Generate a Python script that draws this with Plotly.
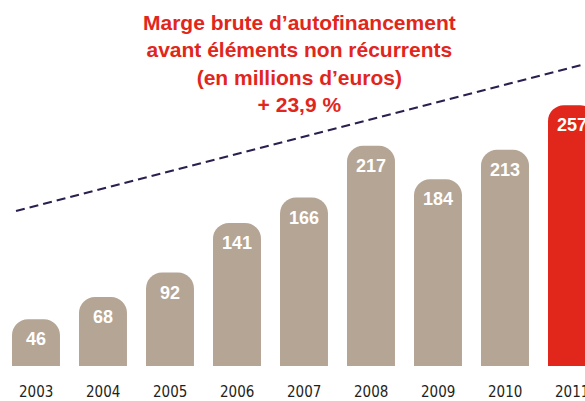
import plotly.graph_objects as go

years = ["2003", "2004", "2005", "2006", "2007", "2008", "2009", "2010", "2011"]
values = [46, 68, 92, 141, 166, 217, 184, 213, 257]
bar_colors = ["#b5a595"] * 8 + ["#e1261c"]
trend_x = [-0.298, 8.194]
trend_y = [152.7, 297.5]
title_lines = ["Marge brute d\u2019autofinancement",
               "avant \u00e9l\u00e9ments non r\u00e9currents",
               "(en millions d\u2019euros)",
               "+ 23,9 %"]

xpos = list(range(len(years)))

fig = go.Figure()
fig.add_trace(go.Bar(
    x=xpos, y=values, width=0.716,
    marker=dict(color=bar_colors, line=dict(width=0)),
    hoverinfo="skip",
))
fig.add_trace(go.Scatter(
    x=trend_x, y=trend_y, mode="lines",
    line=dict(color="#2b1f4f", width=2.2, dash="9px,5px"),
    hoverinfo="skip", cliponaxis=False,
))

for xi, v in zip(xpos, values):
    fig.add_annotation(
        x=xi, y=v, xref="x", yref="y", text="<b>%d</b>" % v,
        showarrow=False, yshift=-20, yanchor="middle",
        font=dict(family="Liberation Sans, Arial, sans-serif", size=18, color="white"),
    )

for xi, yr in zip(xpos, years):
    fig.add_annotation(
        x=xi, y=0, xref="x", yref="y", text=yr,
        showarrow=False, yshift=-26, yanchor="middle", xanchor="center",
        font=dict(family="Liberation Sans Narrow, DejaVu Sans Condensed, Arial Narrow, sans-serif",
                  size=15, color="#231f20"),
    )

fig.add_annotation(
    x=299 / 585, y=(366 - 64) / 366, xref="paper", yref="paper",
    text="<b>" + "<br>".join(title_lines) + "</b>",
    showarrow=False, xanchor="center", yanchor="middle", align="center",
    font=dict(family="Liberation Sans, Arial, sans-serif", size=21, color="#e1261c"),
)

fig.update_layout(
    width=585, height=401,
    margin=dict(l=0, r=0, t=0, b=35),
    paper_bgcolor="white", plot_bgcolor="white",
    showlegend=False,
    barcornerradius=16,
    xaxis=dict(
        range=[-0.537, 8.194], showticklabels=False,
        showgrid=False, zeroline=False, showline=False,
    ),
    yaxis=dict(range=[0, 360.6], visible=False, showgrid=False, zeroline=False),
)

fig.write_html("out.html")
